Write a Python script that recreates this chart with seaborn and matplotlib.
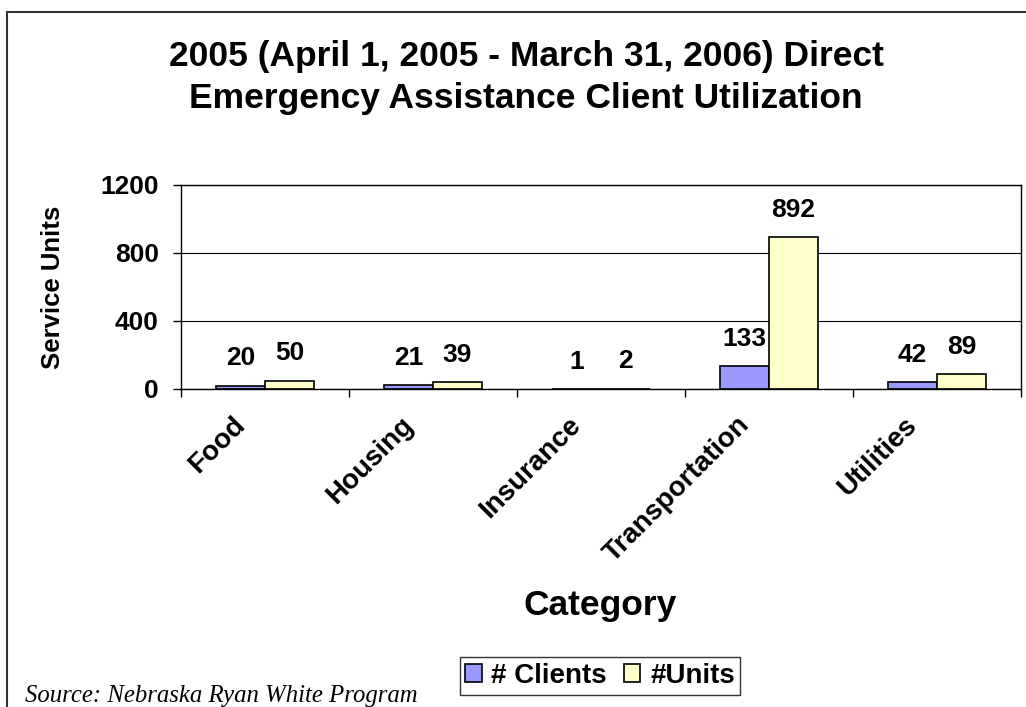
import pandas as pd
import seaborn as sns
import matplotlib.pyplot as plt
import matplotlib.transforms as mtransforms
from matplotlib.patches import Rectangle
from matplotlib.ticker import FixedLocator

sns.set_style('white')
plt.rcParams['font.family'] = ['Liberation Sans', 'DejaVu Sans']
plt.rcParams['text.color'] = 'black'
plt.rcParams['xtick.color'] = 'black'
plt.rcParams['ytick.color'] = 'black'
plt.rcParams['axes.labelcolor'] = 'black'

# data
categories = ['Food', 'Housing', 'Insurance', 'Transportation', 'Utilities']
clients = [20, 21, 1, 133, 42]
units = [50, 39, 2, 892, 89]
series_names = ['# Clients', '#Units']
y_ticks = [0, 400, 800, 1200]

df = pd.DataFrame({
    'Category': categories * 2,
    'value': clients + units,
    'series': [series_names[0]] * len(categories) + [series_names[1]] * len(categories),
})

fig = plt.figure(figsize=(10.26, 7.07), dpi=100)
ax = fig.add_axes([181 / 1026, 1 - 389 / 707, 840 / 1026, 204 / 707])

sns.barplot(data=df, x='Category', y='value', hue='series',
            palette=['#9999FF', '#FFFFCC'], saturation=1, edgecolor='black',
            linewidth=1.2, width=0.583, ax=ax)

# plot area look (Excel style)
ax.set_ylim(0, 1200)
ax.set_xlim(-0.5, len(categories) - 0.5)
ax.set_yticks(y_ticks)
ax.set_yticklabels([str(t) for t in y_ticks], fontsize=19, fontweight='bold')
ax.set_axisbelow(True)
ax.yaxis.grid(True, color='black', linewidth=0.8)
for sp in ax.spines.values():
    sp.set_visible(True)
    sp.set_color('black')
    sp.set_linewidth(1.0)
ax.tick_params(axis='y', direction='out', length=6, width=1, pad=10, left=True)

# category boundary ticks, labels on the centres
ax.xaxis.set_minor_locator(FixedLocator([i - 0.5 for i in range(len(categories) + 1)]))
ax.tick_params(axis='x', which='minor', direction='out', length=6, width=1, bottom=True)
ax.tick_params(axis='x', which='major', length=0, pad=23)
ax.set_xticks(range(len(categories)))
ax.set_xticklabels(categories, fontsize=20, fontweight='bold', rotation=45,
                   ha='right', va='center', rotation_mode='anchor')
shift = mtransforms.ScaledTranslation(-17 / 72, 0, fig.dpi_scale_trans)
for lab in ax.get_xticklabels():
    lab.set_transform(lab.get_transform() + shift)

ax.set_xlabel('')
ax.set_ylabel('')

# value labels over the bars
for cont in ax.containers:
    ax.bar_label(cont, padding=11, fontsize=19, fontweight='bold')

# legend at bottom
handles, labels = ax.get_legend_handles_labels()
ax.get_legend().remove()
leg = fig.legend(handles, labels, loc='center', bbox_to_anchor=(600 / 1026, 1 - 676 / 707),
                 ncol=2, frameon=True, fancybox=False, edgecolor='black',
                 prop={'size': 20, 'weight': 'bold'}, handlelength=0.6, handleheight=0.6,
                 handletextpad=0.35, columnspacing=0.6, borderpad=0.2, borderaxespad=0)
leg.get_frame().set_linewidth(1.0)

# titles and axis labels
fig.text(526 / 1026, 1 - 66 / 707, '2005 (April 1, 2005 - March 31, 2006) Direct',
         ha='center', va='baseline', fontsize=25.5, fontweight='bold')
fig.text(526 / 1026, 1 - 108 / 707, 'Emergency Assistance Client Utilization',
         ha='center', va='baseline', fontsize=25.5, fontweight='bold')
fig.text(600 / 1026, 1 - 615 / 707, 'Category', ha='center', va='baseline',
         fontsize=25.5, fontweight='bold')
fig.text(53 / 1026, 1 - 287 / 707, 'Service Units', ha='center', va='center',
         rotation=90, fontsize=18.5, fontweight='bold')
fig.text(25 / 1026, 1 - 702 / 707, 'Source: Nebraska Ryan White Program',
         ha='left', va='baseline', fontsize=17.8, style='italic',
         family=['Liberation Serif', 'DejaVu Serif'])

# outer chart frame (right and bottom run off the picture)
fig.add_artist(Rectangle((7 / 1026, -0.5), 2, 1 - 12 / 707 + 0.5, transform=fig.transFigure,
                         fill=False, edgecolor='#333333', linewidth=1.5, clip_on=False))

fig.savefig('out.png', dpi=100)
